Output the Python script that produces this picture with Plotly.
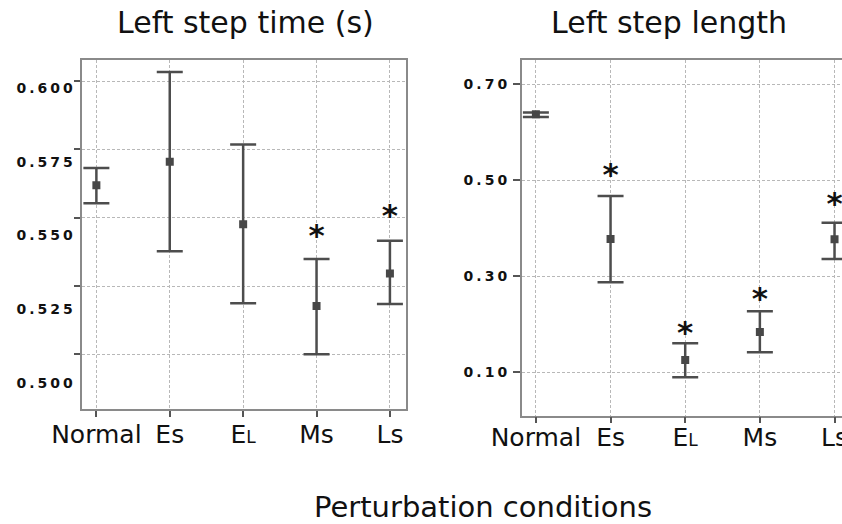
import plotly.graph_objects as go

# ---------------- data ----------------
conditions = ["Normal", "Es", "EL", "Ms", "Ls"]
x_labels = ["Normal", "Es", "E<span style='font-size:17px'>L</span>", "Ms", "Ls"]

# Left step time (s)
time_mean = [0.5619, 0.5705, 0.5476, 0.5177, 0.5296]
time_upper = [0.5682, 0.6033, 0.5768, 0.5349, 0.5416]
time_lower = [0.5553, 0.5377, 0.5187, 0.5000, 0.5184]
time_sig = [None, None, None, 0.5424, 0.5497]
time_ticks = [0.500, 0.525, 0.550, 0.575, 0.600]
time_ticklabels = ["0.500", "0.525", "0.550", "0.575", "0.600"]

# Left step length
len_mean = [0.6375, 0.3777, 0.1256, 0.1840, 0.3770]
len_upper = [0.6410, 0.4673, 0.1604, 0.2270, 0.4117]
len_lower = [0.6320, 0.2875, 0.0896, 0.1417, 0.3360]
len_sig = [None, 0.5060, 0.1780, 0.2485, 0.4450]
len_ticks = [0.10, 0.30, 0.50, 0.70]
len_ticklabels = ["0.10", "0.30", "0.50", "0.70"]

# ---------------- styling ----------------
W, H = 842, 524
FONT = "DejaVu Sans"
BAR_COLOR = "#4d4d4d"
MARK_COLOR = "#474747"
FRAME = "#8a8a8a"
GRID = "#b8b8b8"
xpos = list(range(len(conditions)))


def spaced(t):
    return f"<span style='letter-spacing:3px'>{t}</span>"


fig = go.Figure()


def add_panel(mean, upper, lower, sig, xa, ya):
    fig.add_trace(go.Scatter(
        x=xpos, y=mean, mode="markers", xaxis=xa, yaxis=ya,
        marker=dict(symbol="square", size=8, color=MARK_COLOR),
        error_y=dict(type="data", symmetric=False,
                     array=[u - m for u, m in zip(upper, mean)],
                     arrayminus=[m - l for m, l in zip(mean, lower)],
                     color=BAR_COLOR, thickness=2.5, width=13),
        showlegend=False, hoverinfo="skip"))
    fig.add_trace(go.Scatter(
        x=xpos, y=sig, mode="text", xaxis=xa, yaxis=ya,
        text=["*" if s is not None else "" for s in sig],
        textposition="middle center",
        textfont=dict(family=FONT, size=31, color="#111111", weight="bold"),
        showlegend=False, hoverinfo="skip", cliponaxis=False))


add_panel(time_mean, time_upper, time_lower, time_sig, "x", "y")
add_panel(len_mean, len_upper, len_lower, len_sig, "x2", "y2")
# carrier trace for the tick-label axis of the left panel
fig.add_trace(go.Scatter(x=[None], y=[None], xaxis="x", yaxis="y3",
                         showlegend=False, hoverinfo="skip"))

xcommon = dict(tickmode="array", tickvals=xpos, ticktext=x_labels,
               ticks="outside", ticklen=6, tickwidth=1.5, tickcolor="#555",
               showgrid=True, gridcolor=GRID, griddash="3px,2px", gridwidth=1,
               showline=True, linecolor=FRAME, linewidth=1.5, mirror=True,
               zeroline=False, automargin=False, ticklabeloverflow="allow",
               tickfont=dict(family=FONT, size=25, color="#111111"))

left_dom_x = [81.7 / W, 405.7 / W]
left_dom_y = [1 - 409 / H, 1 - 59.5 / H]
right_dom_x = [521.7 / W, 1.0]
right_dom_y = [1 - 415.7 / H, 1 - 60 / H]

ytickfont = dict(family=FONT, size=14, color="#111111", weight="bold")

fig.update_layout(
    width=W, height=H,
    margin=dict(l=0, r=0, t=0, b=0),
    paper_bgcolor="white", plot_bgcolor="white",
    font=dict(family=FONT, color="#111111"),
    xaxis=dict(domain=left_dom_x, range=[-0.2, 4.215], anchor="y",
               ticklabelstandoff=-4, **xcommon),
    yaxis=dict(domain=left_dom_y, range=[0.480, 0.6079], anchor="x",
               tickmode="array", tickvals=time_ticks, showticklabels=False,
               ticks="outside", ticklen=6, tickwidth=2, tickcolor="#555",
               showgrid=True, gridcolor=GRID, griddash="3px,2px", gridwidth=1,
               showline=True, linecolor=FRAME, linewidth=1.5, mirror=True,
               zeroline=False, automargin=False),
    yaxis3=dict(domain=left_dom_y, range=[0.49131, 0.60954], anchor="x",
                overlaying="y", side="left",
                tickmode="array", tickvals=time_ticks,
                ticktext=[spaced(t) for t in time_ticklabels],
                ticks="", showgrid=False, showline=False, zeroline=False,
                ticklabelstandoff=5, automargin=False, tickfont=ytickfont),
    xaxis2=dict(domain=right_dom_x, range=[-0.19, 4.10], anchor="y2",
                ticklabelstandoff=-7, **xcommon),
    yaxis2=dict(domain=right_dom_y, range=[0.00958, 0.7506], anchor="x2",
                tickmode="array", tickvals=len_ticks,
                ticktext=[spaced(t) for t in len_ticklabels],
                ticks="outside", ticklen=7, tickwidth=2, tickcolor="#555",
                showgrid=True, gridcolor=GRID, griddash="3px,2px", gridwidth=1,
                showline=True, linecolor=FRAME, linewidth=1.5, mirror=False,
                zeroline=False, automargin=False, tickfont=ytickfont),
    annotations=[
        dict(text="Left step time (s)", x=245 / W, y=1 - 22 / H, xref="paper", yref="paper",
             xanchor="center", yanchor="middle", showarrow=False,
             font=dict(family=FONT, size=30, color="#111111")),
        dict(text="Left step length", x=669 / W, y=1 - 22 / H, xref="paper", yref="paper",
             xanchor="center", yanchor="middle", showarrow=False,
             font=dict(family=FONT, size=30, color="#111111")),
        dict(text="Perturbation conditions", x=483 / W, y=1 - 507 / H, xref="paper", yref="paper",
             xanchor="center", yanchor="middle", showarrow=False,
             font=dict(family=FONT, size=29, color="#111111")),
    ],
)

fig.write_html("out.html")
